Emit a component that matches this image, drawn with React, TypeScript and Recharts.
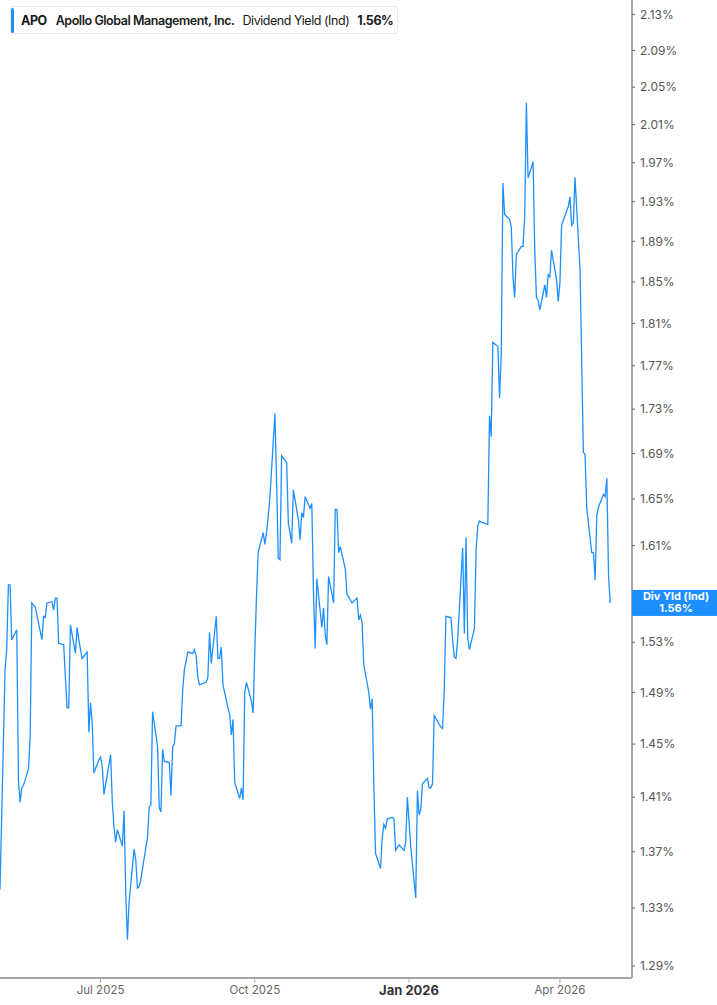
import React from 'react';
import { LineChart, Line, XAxis, YAxis, ReferenceDot } from 'recharts';

// daily dividend yield (%), one value per trading day
const yieldValues = [
  1.343, 1.508, 1.524, 1.577, 1.577, 1.532, 1.54, 1.423, 1.406,
  1.417, 1.419, 1.431, 1.456, 1.562, 1.56, 1.559, 1.532, 1.551,
  1.55, 1.562, 1.563, 1.556, 1.566, 1.566, 1.529, 1.528, 1.502, 1.478,
  1.478, 1.544, 1.521, 1.542, 1.532, 1.517, 1.522, 1.459, 1.482, 1.466,
  1.428, 1.438, 1.44, 1.433, 1.412, 1.442, 1.406, 1.388, 1.377, 1.386,
  1.374, 1.4, 1.341, 1.308, 1.334, 1.372, 1.364, 1.344, 1.345, 1.35,
  1.373, 1.38, 1.403, 1.404, 1.475, 1.448, 1.402, 1.399, 1.446, 1.437,
  1.436, 1.411, 1.448, 1.45, 1.464, 1.464, 1.492, 1.508, 1.515, 1.522, 1.521,
  1.524, 1.519, 1.502, 1.496, 1.498, 1.502, 1.538, 1.513, 1.551, 1.517,
  1.517, 1.526, 1.496, 1.478, 1.473, 1.457, 1.469, 1.421, 1.409, 1.417,
  1.408, 1.49, 1.498, 1.483, 1.474, 1.524, 1.567, 1.604, 1.621, 1.611,
  1.621, 1.635, 1.651, 1.726, 1.664, 1.599, 1.598, 1.688, 1.682, 1.629,
  1.621, 1.612, 1.658, 1.632, 1.615, 1.638, 1.634, 1.652, 1.642, 1.646,
  1.57, 1.525, 1.582, 1.542, 1.558, 1.536, 1.528, 1.584, 1.562, 1.641,
  1.641, 1.604, 1.609, 1.59, 1.569, 1.567, 1.562, 1.566, 1.548, 1.552, 1.546,
  1.512, 1.49, 1.477, 1.485, 1.419, 1.369, 1.358, 1.38, 1.39, 1.387,
  1.394, 1.395, 1.394, 1.371, 1.375, 1.371, 1.377, 1.41, 1.374, 1.337,
  1.415, 1.397, 1.401, 1.42, 1.424, 1.417, 1.417, 1.42, 1.472, 1.463,
  1.462, 1.492, 1.551, 1.55, 1.532, 1.518, 1.517, 1.532, 1.608, 1.537,
  1.617, 1.534, 1.524, 1.541, 1.606, 1.627, 1.631, 1.63, 1.628, 1.724,
  1.705, 1.792, 1.788, 1.74, 1.782, 1.949, 1.917, 1.912, 1.904, 1.855,
  1.835, 1.877, 1.885, 1.885, 1.915, 2.033, 1.954, 1.971, 1.881, 1.835,
  1.832, 1.823, 1.847, 1.835, 1.857, 1.855, 1.881, 1.852, 1.831, 1.849,
  1.906, 1.925, 1.935, 1.906, 1.908, 1.955, 1.862, 1.775, 1.691, 1.689,
  1.642, 1.604, 1.604, 1.581, 1.636, 1.643, 1.654, 1.652, 1.668, 1.585,
  1.562,
];

const firstDay = '2025-05-02';
const marketHolidays = [
  '2025-05-26', '2025-06-19', '2025-07-04', '2025-09-01', '2025-11-27',
  '2025-12-25', '2026-01-01', '2026-01-19', '2026-02-16', '2026-04-03',
];
const xDomainDates = ['2025-05-02', '2026-05-14'];
const xTickDates = ['2025-07-01', '2025-10-01', '2026-01-01', '2026-04-01'];
const xTickLabels = ['Jul 2025', 'Oct 2025', 'Jan 2026', 'Apr 2026'];
const yTicks = [
  1.29, 1.33, 1.37, 1.41, 1.45, 1.49, 1.53, 1.61, 1.65, 1.69, 1.73, 1.77,
  1.81, 1.85, 1.89, 1.93, 1.97, 2.01, 2.05, 2.09, 2.13,
];
const yDomain = [1.2818, 2.1464];

const BLUE = '#1e8fff';
const FONT = 'Inter, "Noto Sans", sans-serif';
const DAY = 86400000;
const ts = (d: string) => Date.parse(d + 'T00:00:00Z');

function tradingDays(start: string, n: number) {
  const out: number[] = [];
  let t = ts(start);
  const skip = new Set(marketHolidays.map(ts));
  while (out.length < n) {
    const wd = new Date(t).getUTCDay();
    if (wd !== 0 && wd !== 6 && !skip.has(t)) out.push(t);
    t += DAY;
  }
  return out;
}

const dates = tradingDays(firstDay, yieldValues.length);
const data = yieldValues.map((v, i) => ({ t: dates[i], v }));
const xTicks = xTickDates.map(ts);
const last = data[data.length - 1];

const XTick = (props: any) => {
  const { x, y, payload } = props;
  const label = xTickLabels[xTicks.indexOf(payload.value)];
  const bold = label === 'Jan 2026';
  return (
    <text
      x={x}
      y={y}
      dy={bold ? 10 : 9}
      textAnchor="middle"
      fontFamily={FONT}
      fontSize={bold ? 13 : 11.5}
      fontWeight={bold ? 700 : 400}
      fill={bold ? '#333' : '#666'}
    >
      {label}
    </text>
  );
};

// value box on the right axis, anchored at the last point's y
const EndBox = (props: any) => {
  const { cy } = props;
  return (
    <g>
      <rect x={632} y={cy - 13} width={85} height={26} fill={BLUE} />
      <text x={676} y={cy - 3} textAnchor="middle" fontFamily={FONT} fontSize={11} fontWeight={700} fill="#fff">
        Div Yld (Ind)
      </text>
      <text x={676} y={cy + 9} textAnchor="middle" fontFamily={FONT} fontSize={11} fontWeight={700} fill="#fff">
        1.56%
      </text>
    </g>
  );
};

export default function App() {
  return (
    <div style={{ position: 'absolute', left: 0, top: 0, width: 717, height: 1005, background: '#fff' }}>
      <LineChart width={717} height={1005} data={data} margin={{ top: 0, right: 0, bottom: 0, left: 0 }}>
        <XAxis
          dataKey="t"
          type="number"
          scale="time"
          domain={xDomainDates.map(ts)}
          ticks={xTicks}
          tick={<XTick />}
          height={27}
          tickSize={5}
          axisLine={{ stroke: '#a6a6a6', strokeWidth: 2 }}
          tickLine={{ stroke: '#a6a6a6' }}
        />
        <YAxis
          orientation="right"
          type="number"
          scale="log"
          domain={yDomain}
          ticks={yTicks}
          width={85}
          tickSize={3}
          tickMargin={5}
          axisLine={{ stroke: '#a6a6a6', strokeWidth: 2 }}
          tickLine={{ stroke: '#666' }}
          tick={{ fontFamily: FONT, fontSize: 12, fill: '#555' }}
          tickFormatter={(v: number) => v.toFixed(2) + '%'}
        />
        <Line
          type="linear"
          dataKey="v"
          stroke={BLUE}
          strokeWidth={1.3}
          dot={false}
          activeDot={false}
          isAnimationActive={false}
        />
        <ReferenceDot x={last.t} y={last.v} r={0} shape={<EndBox />} ifOverflow="visible" />
      </LineChart>
      <div
        style={{
          position: 'absolute',
          left: 10,
          top: 6,
          width: 388,
          height: 28,
          boxSizing: 'border-box',
          border: '1px solid #e8e8e8',
          borderRadius: 3,
          background: '#fff',
          display: 'flex',
          alignItems: 'center',
          fontFamily: FONT,
          fontSize: 12.5,
          letterSpacing: -0.45,
          color: '#1a1a1a',
          whiteSpace: 'nowrap',
        }}
      >
        <div style={{ width: 3, height: 25, background: BLUE, borderRadius: 2 }} />
        <span style={{ fontWeight: 700, marginLeft: 7 }}>APO</span>
        <span style={{ fontWeight: 600, marginLeft: 9 }}>Apollo Global Management, Inc.</span>
        <span style={{ fontWeight: 400, marginLeft: 8 }}>Dividend Yield (Ind)</span>
        <span style={{ fontWeight: 700, marginLeft: 8 }}>1.56%</span>
      </div>
    </div>
  );
}
